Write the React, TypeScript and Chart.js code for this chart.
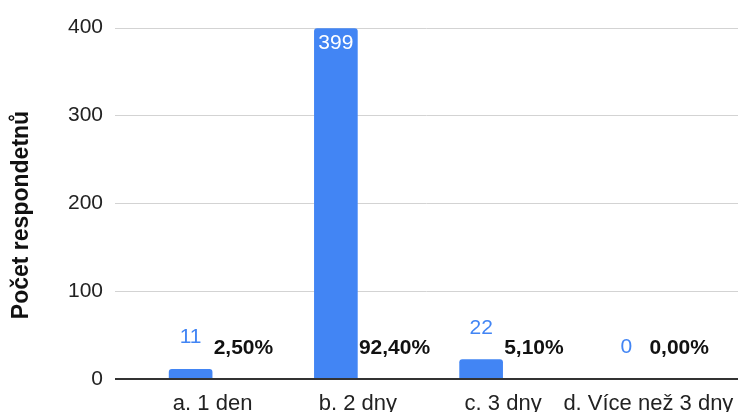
import React, { useEffect, useRef } from "react";
import { Chart, registerables } from "chart.js";

Chart.register(...registerables);

const categories = ["a. 1 den", "b. 2 dny", "c. 3 dny", "d. Více než 3 dny"];
const counts = [11, 399, 22, 0];
const percents = [2.5, 92.4, 5.1, 0.0];
const yTicks = [0, 100, 200, 300, 400];
const yTitle = "Počet respondetnů";

const FONT = "'Liberation Sans', Arial, Helvetica, sans-serif";
const BLUE = "#4285F4";

const overlayPlugin = {
  id: "overlay",
  beforeDatasetsDraw(chart: any) {
    const { ctx, chartArea } = chart;
    const y = chart.scales.y;
    ctx.save();
    ctx.strokeStyle = "#d3d3d3";
    ctx.lineWidth = 1;
    yTicks.forEach((t) => {
      if (t === 0) return;
      const py = Math.round(y.getPixelForValue(t)) + 0.5;
      ctx.beginPath();
      ctx.moveTo(chartArea.left - 3, py);
      ctx.lineTo(chart.width, py);
      ctx.stroke();
    });
    ctx.restore();
  },
  afterDatasetsDraw(chart: any) {
    const { ctx, chartArea } = chart;
    const y = chart.scales.y;
    const y0 = y.getPixelForValue(0);
    ctx.save();
    // zero baseline
    ctx.strokeStyle = "#333333";
    ctx.lineWidth = 2;
    ctx.beginPath();
    ctx.moveTo(chartArea.left - 3, y0);
    ctx.lineTo(chart.width, y0);
    ctx.stroke();

    const meta = chart.getDatasetMeta(0);
    meta.data.forEach((bar: any, i: number) => {
      const v = counts[i];
      const h = y0 - bar.y;
      ctx.font = `21px ${FONT}`;
      ctx.textAlign = "center";
      ctx.textBaseline = "alphabetic";
      if (h > 40) {
        ctx.fillStyle = "#ffffff";
        ctx.fillText(String(v), bar.x, bar.y + 21);
      } else {
        ctx.fillStyle = BLUE;
        ctx.fillText(String(v), bar.x, bar.y - 26);
      }
      ctx.font = `bold 21px ${FONT}`;
      ctx.fillStyle = "#111111";
      ctx.textAlign = "left";
      ctx.fillText(percents[i].toFixed(2).replace(".", ",") + "%", bar.x + 23, y0 - 25);
    });

    // y axis title
    ctx.save();
    ctx.translate(28, 215);
    ctx.rotate(-Math.PI / 2);
    ctx.font = `bold 23px ${FONT}`;
    ctx.fillStyle = "#111111";
    ctx.textAlign = "center";
    ctx.textBaseline = "alphabetic";
    ctx.fillText(yTitle, 0, 0);
    ctx.restore();

    ctx.restore();
  },
};

export default function App() {
  const ref = useRef<HTMLCanvasElement | null>(null);
  useEffect(() => {
    document.body.style.margin = "0";
    const canvas = ref.current;
    if (!canvas) return;
    const chart = new Chart(canvas, {
      type: "bar",
      data: {
        labels: categories,
        datasets: [
          {
            data: counts,
            backgroundColor: BLUE,
            borderRadius: { topLeft: 3, topRight: 3, bottomLeft: 0, bottomRight: 0 },
            borderSkipped: "bottom",
            barThickness: 43,
          },
        ],
      },
      options: {
        responsive: false,
        animation: false,
        devicePixelRatio: 1,
        layout: { padding: { top: 27, right: 39, left: 0, bottom: 0 } },
        plugins: { legend: { display: false }, tooltip: { enabled: false } },
        scales: {
          x: {
            grid: { display: false, drawTicks: false },
            border: { display: false },
            ticks: {
              color: "#222222",
              font: { family: FONT, size: 22 },
              padding: 12,
              labelOffset: 22,
              maxRotation: 0,
              autoSkip: false,
            },
            afterFit: (s: any) => {
              s.height = 33;
            },
          },
          y: {
            min: 0,
            max: 400,
            grid: { display: false, drawTicks: false },
            border: { display: false },
            ticks: { stepSize: 100, color: "#222222", font: { family: FONT, size: 21 }, padding: 15 },
            afterFit: (s: any) => {
              s.width = 118;
            },
          },
        },
      },
      plugins: [overlayPlugin],
    });
    return () => chart.destroy();
  }, []);
  return <canvas ref={ref} width={738} height={412} style={{ display: "block" }} />;
}
